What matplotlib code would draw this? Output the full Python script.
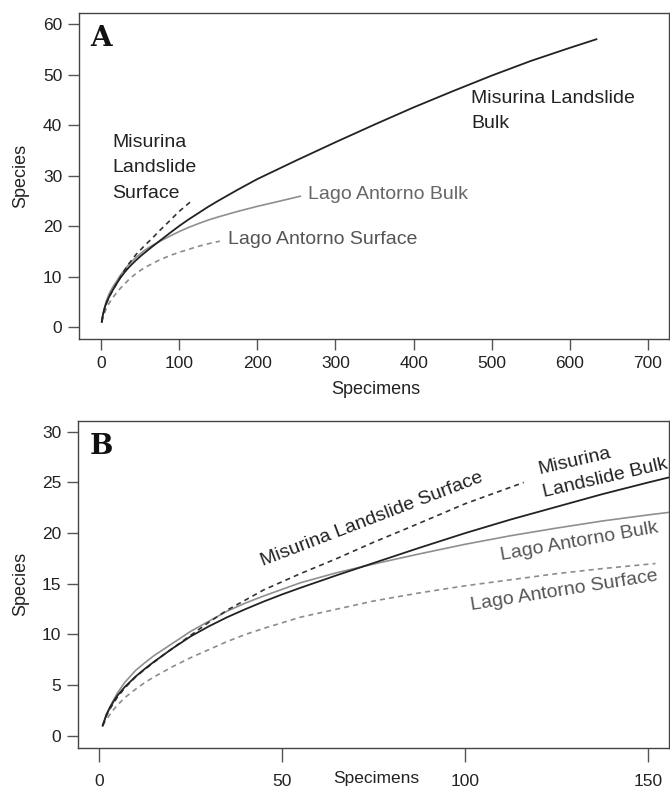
import matplotlib
matplotlib.use("Agg")
import matplotlib.pyplot as plt

plt.rcParams['font.family'] = ['Liberation Sans', 'DejaVu Sans']

# Кривые разрежения (specimens -> species)
ml_bulk_x = [1, 2, 3, 4, 5, 7, 10, 12.5, 15, 17.5, 20, 25, 30, 35, 40, 45, 50, 55, 65, 75, 87.5,
             100, 112.5, 125, 137.5, 150, 175, 200, 250, 300, 350, 400, 450, 500, 550, 600, 634]
ml_bulk_y = [1, 2.05, 2.8, 3.4, 3.95, 4.8, 5.85, 6.6, 7.3, 7.95, 8.6, 9.8, 10.8, 11.7, 12.5, 13.25,
             13.95, 14.6, 15.85, 17.05, 18.55, 20.0, 21.35, 22.6, 23.85, 25.0, 27.2, 29.3, 33.0,
             36.6, 40.1, 43.5, 46.7, 49.8, 52.7, 55.3, 57.0]

ml_surf_x = [1, 2, 3, 4, 5, 7, 10, 12.5, 15, 17.5, 20, 25, 30, 35, 40, 45, 55, 65, 75, 85, 100, 116]
ml_surf_y = [1, 1.95, 2.65, 3.25, 3.8, 4.7, 5.8, 6.55, 7.25, 7.95, 8.6, 9.9, 11.2, 12.4, 13.4, 14.4,
             16.0, 17.5, 19.1, 20.6, 22.9, 25.0]

la_bulk_x = [1, 2, 3, 4, 5, 7, 10, 12.5, 15, 17.5, 20, 25, 30, 35, 40, 45, 55, 65, 75, 87.5,
             100, 112.5, 125, 137.5, 150, 175, 200, 225, 255]
la_bulk_y = [1, 2.1, 2.85, 3.55, 4.2, 5.25, 6.45, 7.2, 7.9, 8.5, 9.1, 10.3, 11.3, 12.3, 13.1, 13.8, 15.1,
             16.1, 16.95, 17.95, 18.9, 19.75, 20.5, 21.2, 21.8, 22.9, 23.9, 24.8, 25.9]

la_surf_x = [1, 2, 3, 4, 5, 7, 10, 12.5, 15, 17.5, 20, 25, 30, 35, 40, 45, 55, 65, 75, 87.5, 100,
             112.5, 125, 137.5, 152]
la_surf_y = [1, 1.6, 2.1, 2.6, 3.0, 3.75, 4.6, 5.25, 5.8, 6.3, 6.8, 7.7, 8.5, 9.3, 10.0, 10.6, 11.7,
             12.5, 13.3, 14.1, 14.8, 15.4, 16.0, 16.5, 17.0]

W, H = 670, 789


def box(l, t, r, b):
    return [l / W, 1 - b / H, (r - l) / W, (b - t) / H]


def draw_curves(ax):
    ax.plot(la_surf_x, la_surf_y, color='#8c8c8c', lw=1.2, ls=(0, (3, 2.5)))
    ax.plot(la_bulk_x, la_bulk_y, color='#8f8f8f', lw=1.2)
    ax.plot(ml_surf_x, ml_surf_y, color='#333333', lw=1.2, ls=(0, (3, 2.5)))
    ax.plot(ml_bulk_x, ml_bulk_y, color='#222222', lw=1.3)


def style(ax):
    for s in ax.spines.values():
        s.set_color('#444444')
        s.set_linewidth(1.0)
    ax.tick_params(direction='out', length=8, width=1, color='#555555',
                   labelsize=12.5, labelcolor='#222222', pad=4)


fig = plt.figure(figsize=(6.7, 7.89), dpi=100)

# Панель A
axA = fig.add_axes(box(79, 13, 669, 339))
draw_curves(axA)
axA.set_xlim(-28.2, 726.9)
axA.set_ylim(-2.38, 62.2)
axA.set_xticks(range(0, 701, 100))
axA.set_yticks(range(0, 61, 10))
style(axA)
axA.text(14, 31.5, 'Misurina\nLandslide\nSurface', fontsize=14, color='#222222',
         ha='left', va='center', linespacing=1.62)
axA.text(473.5, 42.7, 'Misurina Landslide\nBulk', fontsize=14, color='#222222',
         ha='left', va='center', linespacing=1.62)
axA.text(265, 26.3, 'Lago Antorno Bulk', fontsize=14, color='#666666', ha='left', va='center')
axA.text(162.5, 17.4, 'Lago Antorno Surface', fontsize=14, color='#555555', ha='left', va='center')
fig.text(376 / W, 1 - 390 / H, 'Specimens', fontsize=13, ha='center', va='center', color='#222222')
fig.text(21 / W, 1 - 176 / H, 'Species', fontsize=13, ha='center', va='center',
         rotation=90, color='#222222')
fig.text(101 / W, 1 - 38 / H, 'A', fontsize=20, fontweight='bold', family='DejaVu Serif',
         ha='center', va='center', color='#111111')

# Панель B
axB = fig.add_axes(box(78, 421, 669, 748))
draw_curves(axB)
axB.set_xlim(-5.74, 155.7)
axB.set_ylim(-1.21, 31.07)
axB.set_xticks([0, 50, 100, 150])
axB.set_yticks(range(0, 31, 5))
style(axB)
axB.tick_params(axis='x', length=10, pad=9)
kw = dict(fontsize=14, ha='center', va='center', rotation_mode='anchor')
axB.text(74.6, 21.4, 'Misurina Landslide Surface', color='#222222', rotation=21, **kw)
axB.text(130.0, 27.1, 'Misurina', color='#222222', rotation=13, **kw)
axB.text(138.3, 25.4, 'Landslide Bulk', color='#222222', rotation=13, **kw)
axB.text(131.1, 19.2, 'Lago Antorno Bulk', color='#555555', rotation=10, **kw)
axB.text(127.2, 14.3, 'Lago Antorno Surface', color='#555555', rotation=9, **kw)
fig.text(376 / W, 1 - 779 / H, 'Specimens', fontsize=12.5, ha='center', va='center', color='#222222')
fig.text(21 / W, 1 - 584 / H, 'Species', fontsize=13, ha='center', va='center',
         rotation=90, color='#222222')
fig.text(101 / W, 1 - 446 / H, 'B', fontsize=20, fontweight='bold', family='DejaVu Serif',
         ha='center', va='center', color='#111111')

fig.savefig('out.png', dpi=100)
